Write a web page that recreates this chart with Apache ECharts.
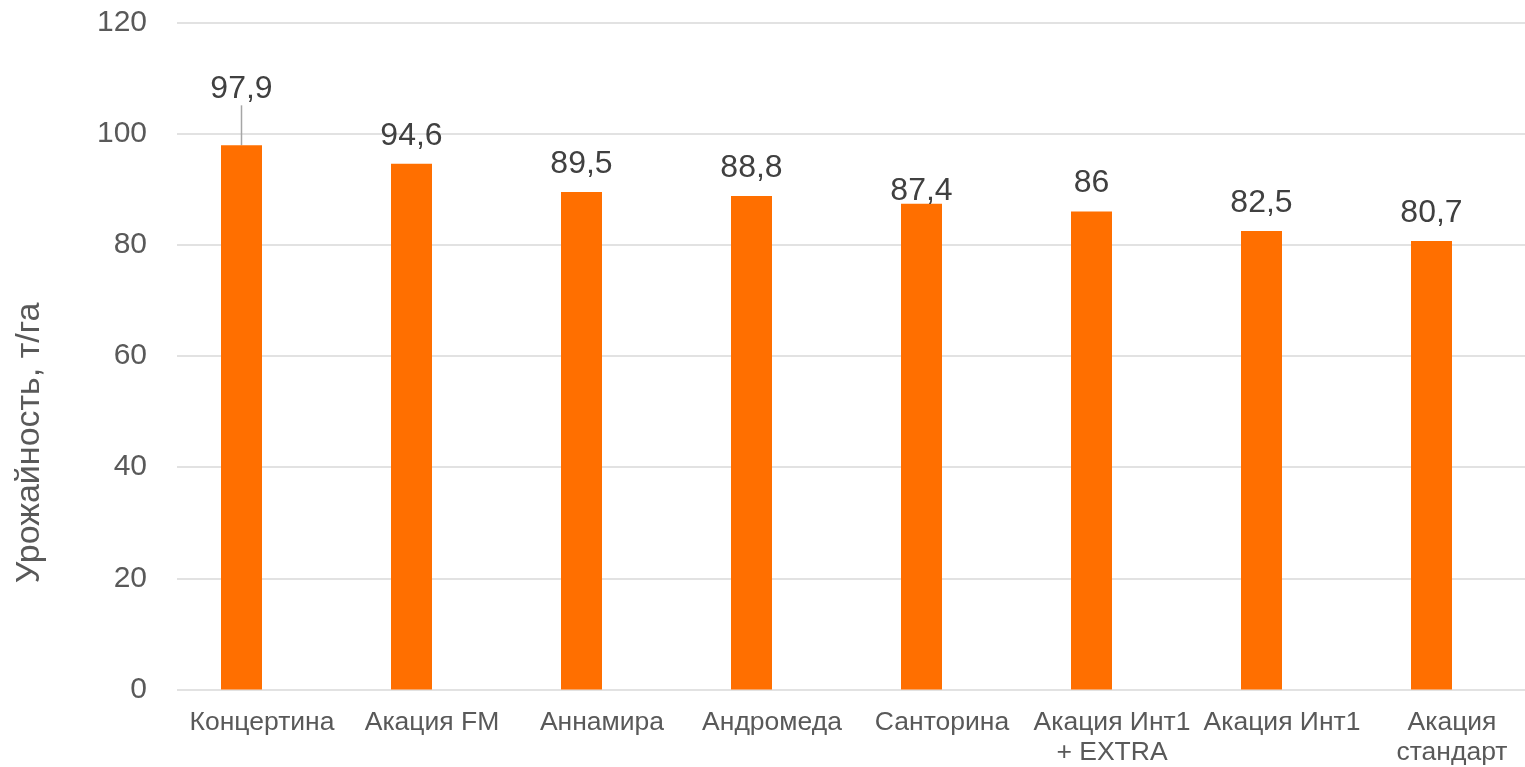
<!DOCTYPE html>
<html>
<head>
<meta charset="utf-8">
<script src="https://cdn.jsdelivr.net/npm/echarts@6/dist/echarts.min.js"></script>
<style>
html,body{margin:0;padding:0;background:#fff;}
#c{width:1525px;height:767px;}
</style>
</head>
<body>
<div id="c"></div>
<script>
const categories = ['Концертина', 'Акация FM', 'Аннамира', 'Андромеда', 'Санторина', 'Акация Инт1\n+ EXTRA', 'Акация Инт1', 'Акация\nстандарт'];
const values = [97.9, 94.6, 89.5, 88.8, 87.4, 86, 82.5, 80.7];
const yTitle = 'Урожайность, т/га';
const yMin = 0, yMax = 120, yStep = 20;

const FONT = "'Liberation Sans', Arial, sans-serif";
const chart = echarts.init(document.getElementById('c'));

const labelShift = {0: -28, 4: 15};

chart.setOption({
  animation: false,
  backgroundColor: '#ffffff',
  grid: [
    {left: 156.5, width: 1360, top: 22.5, bottom: 77.5, outerBoundsMode: 'none', containLabel: false},
    {left: 177, width: 1360, top: 22.5, bottom: 77.5, outerBoundsMode: 'none', containLabel: false}
  ],
  xAxis: [
    {
      type: 'category', gridIndex: 0, data: categories,
      axisLine: {show: false}, axisTick: {show: false}, axisLabel: {show: false}
    },
    {
      type: 'category', gridIndex: 1, data: categories,
      axisLine: {show: false}, axisTick: {show: false},
      axisLabel: {color: '#595959', fontSize: 26.5, fontFamily: FONT, lineHeight: 30, margin: 18, interval: 0}
    }
  ],
  yAxis: [
    {
      type: 'value', gridIndex: 0, min: yMin, max: yMax, interval: yStep,
      axisLabel: {show: false}, splitLine: {show: false}, axisLine: {show: false}, axisTick: {show: false}
    },
    {
      type: 'value', gridIndex: 1, min: yMin, max: yMax, interval: yStep,
      axisLine: {show: false}, axisTick: {show: false},
      axisLabel: {color: '#595959', fontSize: 30, fontFamily: FONT, margin: 30},
      splitLine: {lineStyle: {color: '#D9D9D9', width: 1.5}}
    }
  ],
  graphic: [{
    type: 'text', x: 30, y: 443, rotation: Math.PI / 2,
    style: {
      text: yTitle, fill: '#595959', fontSize: 34, fontFamily: FONT,
      textAlign: 'center', textVerticalAlign: 'middle'
    }
  }],
  series: [{
    type: 'bar', xAxisIndex: 0, yAxisIndex: 0,
    barWidth: 41,
    itemStyle: {color: '#FF6F00'},
    data: values.map((v, i) => ({
      value: v,
      labelLine: i === 0 ? {show: true, lineStyle: {color: '#A6A6A6', width: 1.5}} : {show: false}
    })),
    label: {
      show: true, position: 'top', distance: 12,
      color: '#404040', fontSize: 32, fontFamily: FONT,
      formatter: p => String(p.value).replace('.', ',')
    },
    labelLayout: p => (labelShift[p.dataIndex] !== undefined ? {dy: labelShift[p.dataIndex]} : {})
  }]
});
</script>
</body>
</html>
